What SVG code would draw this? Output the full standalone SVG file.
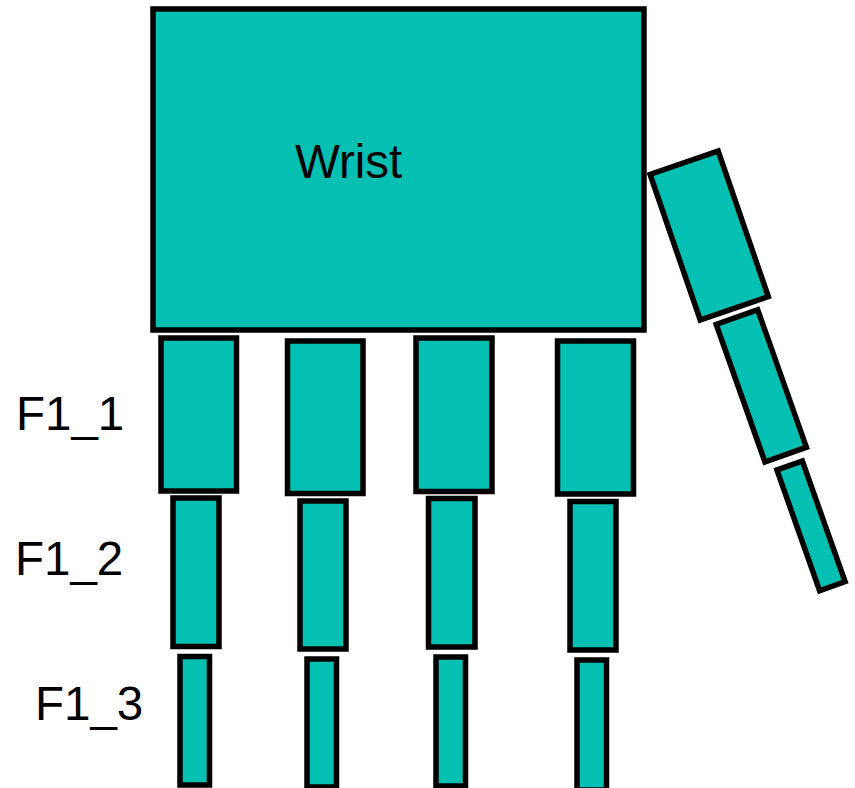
<svg xmlns="http://www.w3.org/2000/svg" width="855" height="788" viewBox="0 0 855 788">
<style>
.b{fill:#03C0B3;stroke:#000;stroke-width:5.5}
.t{font-family:"Liberation Sans",Arial,sans-serif;font-size:47.5px;fill:#000}
</style>
<rect width="855" height="788" fill="#fff"/>
<g id="wrist"><rect class="b" x="153" y="9" width="491" height="321"/><text class="t" x="295" y="178">Wrist</text></g>
<g id="f1_1"><rect class="b" x="161" y="338" width="75.5" height="153"/></g>
<g id="f1_2"><rect class="b" x="173" y="498" width="46" height="148.5"/></g>
<g id="f1_3"><rect class="b" x="180" y="656.5" width="29.5" height="128.5"/></g>
<g id="f2_1"><rect class="b" x="287.5" y="341" width="75.5" height="152.5"/></g>
<g id="f2_2"><rect class="b" x="300" y="501" width="46" height="148"/></g>
<g id="f2_3"><rect class="b" x="307" y="659" width="29.5" height="128"/></g>
<g id="f3_1"><rect class="b" x="416" y="338" width="76" height="153.5"/></g>
<g id="f3_2"><rect class="b" x="428.5" y="498.5" width="46.5" height="148.5"/></g>
<g id="f3_3"><rect class="b" x="436" y="657" width="29.5" height="129"/></g>
<g id="f4_1"><rect class="b" x="557.5" y="341" width="76" height="153"/></g>
<g id="f4_2"><rect class="b" x="570" y="501.5" width="46" height="148.5"/></g>
<g id="f4_3"><rect class="b" x="577" y="660" width="29.5" height="130"/></g>
<g id="thumb_1"><rect class="b" x="-36" y="-77" width="72" height="154" transform="translate(709.2 235.5) rotate(-19)"/></g>
<g id="thumb_2"><rect class="b" x="-22" y="-73" width="44" height="146" transform="translate(761.3 385.8) rotate(-19.5)"/></g>
<g id="thumb_3"><rect class="b" x="-13.5" y="-64" width="27" height="128" transform="translate(811 525.8) rotate(-19.5)"/></g>
<g id="labels">
<text class="t" x="16" y="430">F1_1</text>
<text class="t" x="15" y="575">F1_2</text>
<text class="t" x="35" y="720">F1_3</text>
</g>
<g id="connectors"/>
</svg>
